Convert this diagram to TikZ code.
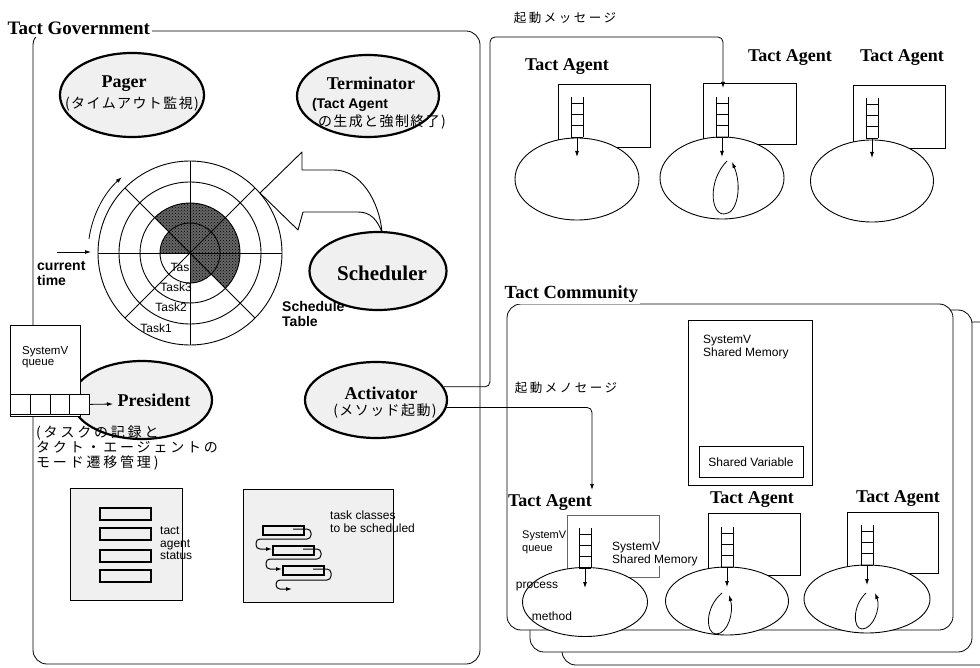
\documentclass[tikz,border=0pt]{standalone}
\usepackage{fontspec}
\setmainfont{Liberation Serif}
\setsansfont{Liberation Sans}
\newfontfamily\jpfont[LetterSpace=10]{Noto Sans CJK JP}
\newfontfamily\jpwide[LetterSpace=20]{Noto Sans CJK JP}
\usepackage{tikz}
\usetikzlibrary{arrows.meta,shapes.geometric,patterns}
\colorlet{stip}{black!6}
\colorlet{tabfill}{black!60}
\tikzset{
  frame/.style={draw, line width=0.8pt, rounded corners=14pt, fill=white},
  daemon/.style={ellipse, draw, line width=2.2pt, fill=stip, inner sep=0pt},
  proc/.style={ellipse, draw, line width=0.9pt, fill=white, inner sep=0pt},
  boxed/.style={draw, line width=0.8pt, fill=white},
  recbox/.style={draw, line width=1.3pt, fill=stip},
  flow/.style={-{Latex[length=6pt,width=4pt]}, line width=0.8pt},
  msg/.style={flow, rounded corners=5pt},
  bigtitle/.style={font=\bfseries\fontsize{19}{19}\selectfont, fill=white, inner sep=1.5pt, anchor=base west},
  dname/.style={font=\bfseries\fontsize{18}{18}\selectfont, inner sep=0pt},
  jtext/.style={font=\jpfont\fontsize{14}{18}\selectfont, inner sep=0pt},
  sans/.style={font=\sffamily\fontsize{12}{12.5}\selectfont, align=left, inner sep=0pt},
  bsans/.style={font=\sffamily\bfseries\fontsize{14}{15}\selectfont, align=left, inner sep=0pt},
  tabshade/.style={fill=tabfill, postaction={pattern=crosshatch dots, pattern color=black}},
}

\begin{document}
\begin{tikzpicture}[x=1pt,y=-1pt]
  \useasboundingbox (0,0) rectangle (980,668);

  % ---- Tact Government frame ----
  \draw[frame] (33,31) rectangle (480,664);
  \node[bigtitle] (govT) at (6,35) {Tact Government};

  % ---- Tact Community frames (back to front) ----
  \draw[frame] (562,322) rectangle (1000,665);
  \draw[frame] (530,310) rectangle (972,652);
  \draw[frame] (507,304) rectangle (953,630);
  \node[bigtitle, font=\bfseries\fontsize{18.5}{18.5}\selectfont] (comT) at (503,299) {Tact Community};

  % Pager and Terminator
  \node[daemon, minimum width=144pt, minimum height=84pt] (pager) at (132,95) {};
  \node[dname] (pagerN) at (124,84) {Pager};
  \node[jtext] (pagerJ) at (132,104) {(タイムアウト監視)};
  \node[daemon, minimum width=142pt, minimum height=82pt] (term) at (368,96) {};
  \node[dname] (termN) at (371,83) {Terminator};
  \node[bsans] (termS) at (350,105) {(Tact Agent};
  \node[jtext] (termJ) at (382,122) {の生成と強制終了)};

  % Schedule table: rings = tasks, spokes = time slots
  \begin{scope}[shift={(190,253)}, x=1pt, y=1pt]
    \node[sans] (t0) at (-7,-14) {Task};
    \node[sans] (t3) at (-14,-34) {Task3};
    \node[sans] (t2) at (-19,-54) {Task2};
    \node[sans] (t1) at (-34,-75) {Task1};
    % reserved slots
    \fill[tabshade] (-45:50) arc[start angle=-45, end angle=135, radius=50]
      -- (135:30) arc[start angle=135, end angle=-45, radius=30] -- cycle;
    \fill[tabshade] (0,0) -- (-90:30) arc[start angle=-90, end angle=180, radius=30] -- cycle;
    \foreach \r in {30,50,71,92}
      \draw[line width=0.9pt] (0,0) circle[radius=\r];
    \foreach \a in {0,45,...,315}
      \draw[line width=0.9pt] (0,0) -- (\a:92);
    % the table turns
    \draw[flow] (172:102) arc[start angle=172, end angle=132, radius=102];
  \end{scope}
  \coordinate (ctail) at (57,252);
  \coordinate (chead) at (91,252);
  \draw[flow] (ctail) -- (chead);
  \node[bsans, anchor=north west] (ctime) at (37,261) {current\\time};
  \node[bsans, anchor=north west] (stab) at (282,301) {Schedule\\Table};

  % Scheduler writes into the table (hollow arrow)
  \node[daemon, minimum width=137pt, minimum height=78pt] (sched) at (378,271) {};
  \node[dname, font=\bfseries\fontsize{21}{21}\selectfont] (schedN) at (382,273) {Scheduler};
  \draw[line width=0.9pt, line join=round] (260,193) -- (302,152) -- (302,170) -- (334,170)
    .. controls (360,170) and (379,200) .. (382,232)
    .. controls (377,220) and (371,212) .. (358,212) -- (303,212) -- (298,230) -- cycle;

  % President with its SystemV queue
  \node[daemon, minimum width=140pt, minimum height=78pt] (pres) at (142,400) {};
  \node[dname] (presN) at (154,400) {President};
  \node[jtext, align=left, anchor=north west, font=\jpwide\fontsize{14}{15}\selectfont] (presJ) at (36,426)
    {(タスクの記録と\\タクト・エージェントの\\モード遷移管理)};
  \node[boxed, inner sep=0pt, anchor=north west, minimum width=70pt, minimum height=91pt] (gqbox) at (10,325) {};
  \node[sans, anchor=north west, font=\sffamily\fontsize{11.5}{11}\selectfont] (gqT) at (22,346) {SystemV\\queue};
  \foreach \i in {0,...,3}
    \node[boxed, inner sep=0pt, anchor=north west, minimum width=19.75pt, minimum height=20pt] (gq\i) at ({10+19.75*\i},394) {};
  \coordinate (presin) at (113,404);
  \draw[flow] (gq3.east) -- (presin);

  % Activator
  \node[daemon, minimum width=142pt, minimum height=76pt] (act) at (376,400) {};
  \node[dname] (actN) at (381,393) {Activator};
  \node[jtext] (actJ) at (385,411) {(メソッド起動)};

  % tact agent status
  \draw[recbox, line width=1pt] (70,488) rectangle (182,600);
  \foreach \y in {508,528,550,570}
    \draw[recbox] (100,\y) rectangle (151,\y+12);
  \node[sans, anchor=north west] (stat) at (160,527) {tact\\agent\\status};

  % task classes to be scheduled
  \draw[recbox, line width=1pt] (243,489) rectangle (393,602);
  \foreach \x/\y in {263/526, 273/546, 283/566}
    \draw[recbox] (\x,\y) rectangle (\x+41,\y+9);
  \draw[msg, line width=1pt, rounded corners=4pt] (293,529) -- (311,529) -- (311,539) -- (256,539) -- (256,549) -- (272,549);
  \draw[msg, line width=1pt, rounded corners=4pt] (303,549) -- (321,549) -- (321,559) -- (266,559) -- (266,569) -- (282,569);
  \draw[msg, line width=1pt, rounded corners=4pt] (313,569) -- (331,569) -- (331,580) -- (276,580) -- (276,589) -- (292,589);
  \node[sans, anchor=north west] (tcls) at (330,511) {task classes\\to be scheduled};

  % ---- Tact Agents outside the community ----
  \node[dname] (agA) at (567,67) {Tact Agent};
  \node[dname] (agB) at (790,58) {Tact Agent};
  \node[dname] (agC) at (902,58) {Tact Agent};
  \draw[boxed] (558,84) rectangle (650,147);
  \draw[boxed] (703,83) rectangle (796,144);
  \draw[boxed] (853,85) rectangle (945,148);
  \node[proc, minimum width=124pt, minimum height=82pt] (prA) at (577,179) {};
  \node[proc, minimum width=124pt, minimum height=82pt] (prB) at (722,178) {};
  \node[proc, minimum width=123pt, minimum height=82pt] (prC) at (872,181) {};

  % ---- Tact Agents inside the community ----
  \draw[boxed] (688,320) rectangle (812,485);
  \node[sans, anchor=north west] (shmT) at (703,335) {SystemV\\Shared Memory};
  \node[boxed, sans, inner sep=0pt, minimum width=104pt, minimum height=31pt] (shvar) at (751,462) {Shared Variable};

  \node[dname] (agD) at (550,503) {Tact Agent};
  \node[dname] (agE) at (752,500) {Tact Agent};
  \node[dname] (agF) at (898,499) {Tact Agent};
  \draw[line width=0.6pt, black!60] (567,515) rectangle (659,577);
  \draw[boxed] (708,513) rectangle (800,575);
  \draw[boxed] (847,512) rectangle (938,573);
  \node[proc, minimum width=125pt, minimum height=69pt] (prD) at (585,602) {};
  \node[proc, minimum width=123pt, minimum height=68pt] (prE) at (727,601) {};
  \node[proc, minimum width=126pt, minimum height=68pt] (prF) at (867,599) {};
  \node[sans, anchor=north west, font=\sffamily\fontsize{11}{13}\selectfont] (dq) at (522,531) {SystemV\\queue};
  \node[sans, fill=white, anchor=north west] (dm) at (612,542) {SystemV\\Shared Memory};
  \node[sans] (dp) at (537,587) {process};
  \node[sans] (dme) at (552,616) {method};

  % queues (ladders) and dispatch into the processes
  \foreach \n/\x/\y in {A/571/97, B/716/97, C/866/98, D/579/528, E/721/527, F/861/525} {
    \draw[line width=0.9pt] (\x,\y) -- (\x,\y+40) (\x+12,\y) -- (\x+12,\y+40);
    \foreach \d in {6,17,28,40}
      \draw[line width=0.9pt] (\x,\y+\d) -- (\x+12,\y+\d);
    \coordinate (q\n) at (\x+6,\y+40);
    \coordinate (h\n) at (\x+6,\y+60);
    \draw[flow] (q\n) -- (h\n);
  }

  % method loops
  \draw[flow] (727,161) .. controls (708,180) and (710,214) .. (724,214)
    .. controls (738,214) and (742,185) .. (732,162);
  \draw[flow] (722,593) .. controls (704,608) and (706,634) .. (716,634)
    .. controls (728,634) and (734,612) .. (729,595);
  \draw[flow] (866,593) .. controls (852,606) and (853,629) .. (862,629)
    .. controls (873,629) and (881,608) .. (875,593);

  % activation messages from the Activator
  \coordinate (bend) at (490,37);
  \coordinate (tipB) at (723,88);
  \coordinate (tipD) at (592,490);
  \draw[msg] (act.11) -| (bend) -| (tipB);
  \draw[msg] (act.-6) -| (tipD);
  \node[jtext, font=\jpwide\fontsize{12.5}{14}\selectfont] (msgT1) at (565,18) {起動メッセージ};
  \node[jtext, font=\jpwide\fontsize{12.5}{14}\selectfont] (msgT2) at (566,388) {起動メノセージ};
\end{tikzpicture}
\end{document}
